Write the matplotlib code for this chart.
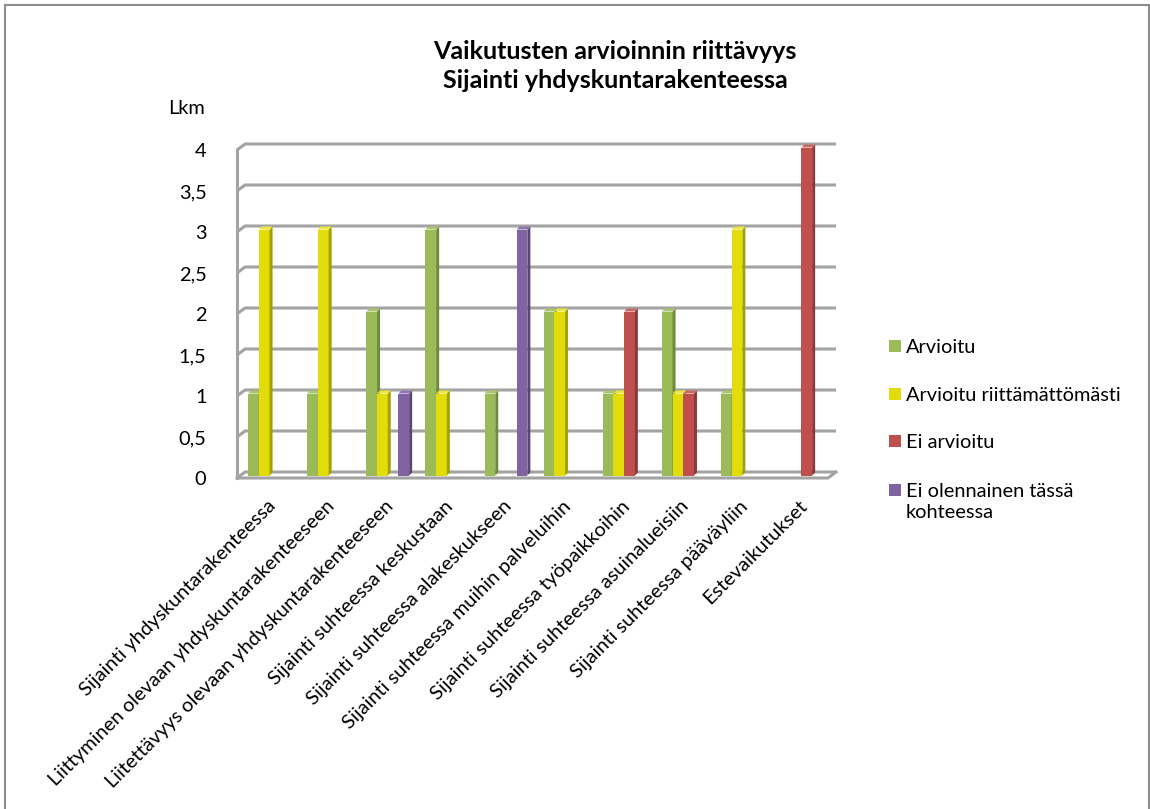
import matplotlib.pyplot as plt
from matplotlib.patches import Rectangle, Polygon

plt.rcParams['font.family'] = ['Lato', 'DejaVu Sans']

categories = [
    'Sijainti yhdyskuntarakenteessa',
    'Liittyminen olevaan yhdyskuntarakenteeseen',
    'Liitettävyys olevaan yhdyskuntarakenteeseen',
    'Sijainti suhteessa keskustaan',
    'Sijainti suhteessa alakeskukseen',
    'Sijainti suhteessa muihin palveluihin',
    'Sijainti suhteessa työpaikkoihin',
    'Sijainti suhteessa asuinalueisiin',
    'Sijainti suhteessa pääväyliin',
    'Estevaikutukset',
]
series_names = ['Arvioitu', 'Arvioitu riittämättömästi', 'Ei arvioitu',
                'Ei olennainen tässä\nkohteessa']
arvioitu = [1, 1, 2, 3, 1, 2, 1, 2, 1, 0]
riittamaton = [3, 3, 1, 1, 0, 2, 1, 1, 3, 0]
ei_arvioitu = [0, 0, 0, 0, 0, 0, 2, 1, 0, 4]
ei_olennainen = [0, 0, 1, 0, 3, 0, 0, 0, 0, 0]
yticks = [0, 0.5, 1, 1.5, 2, 2.5, 3, 3.5, 4]
ytick_labels = ['0', '0,5', '1', '1,5', '2', '2,5', '3', '3,5', '4']

values = [arvioitu, riittamaton, ei_arvioitu, ei_olennainen]
front = ['#9bbb59', '#e2dc0b', '#c0504d', '#8064a2']
side = ['#6f8a3c', '#a5a000', '#8c3835', '#5a4577']
top = ['#a9c66c', '#ece63a', '#cc6663', '#8f76b0']

FS = 14.4

W, H = 1150, 809
fig = plt.figure(figsize=(W / 100, H / 100), dpi=100)
ax = fig.add_axes([237 / W, 1 - 478 / H, 591 / W, 328 / H])
ax.set_xlim(0, 10)
ax.set_ylim(0, 4)
for s in ax.spines.values():
    s.set_visible(False)

# pixel -> data conversion for the 3D depth
px_x = 591 / 10
px_y = 328 / 4
DX, DY = 8 / px_x, 6 / px_y

grid_c = '#a3a3a3'
for v in yticks:
    ax.plot([0, DX, 10 + DX], [v, v + DY, v + DY], color=grid_c, lw=2.2,
            clip_on=False, zorder=1, solid_capstyle='butt')
# left wall and floor
ax.plot([0, 0], [0, 4], color=grid_c, lw=2.2, clip_on=False, zorder=1)
ax.plot([0, 10, 10 + DX], [0, 0, DY], color=grid_c, lw=2.2, clip_on=False,
        zorder=1)

# 3D columns
bw = 10.7 / px_x
sx, sy = 3 / px_x, 3 / px_y
bx, by = 3 / px_x, 2.5 / px_y
for k, vals in enumerate(values):
    for i, v in enumerate(vals):
        if v == 0:
            continue
        x0 = i + 0.5 - 2 * bw + k * bw + bx
        ax.bar(x0, v, width=bw, bottom=by, align='edge', color=front[k],
               lw=0, zorder=3, clip_on=False)
        y1 = by + v
        ax.add_patch(Polygon([(x0 + bw, by), (x0 + bw, y1),
                              (x0 + bw + sx, y1 + sy), (x0 + bw + sx, by + sy)],
                             closed=True, fc=side[k], lw=0, zorder=3,
                             clip_on=False))
        ax.add_patch(Polygon([(x0, y1), (x0 + bw, y1),
                              (x0 + bw + sx, y1 + sy), (x0 + sx, y1 + sy)],
                             closed=True, fc=top[k], lw=0, zorder=3,
                             clip_on=False))

ax.set_yticks(yticks)
ax.set_yticklabels(ytick_labels, fontsize=FS)
ax.set_xticks([i + 0.5 for i in range(10)])
ax.set_xticklabels(categories, rotation=45, ha='right', va='top',
                   rotation_mode='anchor', fontsize=FS)
ax.tick_params(axis='y', length=0, pad=22)
ax.tick_params(axis='x', length=0, pad=14)

fig.text(186 / W, 1 - 108 / H, 'Lkm', fontsize=FS, ha='center', va='center')
fig.text(615 / W, 1 - 66 / H,
         'Vaikutusten arvioinnin riittävyys\nSijainti yhdyskuntarakenteessa',
         fontsize=18, fontweight='bold', ha='center', va='center',
         linespacing=1.3)

# legend
leg_y = [346, 394, 441, 490]
for k, name in enumerate(series_names):
    y = leg_y[k]
    fig.patches.append(Rectangle((889 / W, 1 - (y + 6) / H), 12 / W, 12 / H,
                                 transform=fig.transFigure, fc=front[k], lw=0))
    fig.text(906 / W, 1 - (y - 7) / H, name, fontsize=FS, ha='left',
             va='top', linespacing=1.25)

# chart border
fig.patches.append(Rectangle((5 / W, -5 / H), 1144 / W, 809 / H,
                             transform=fig.transFigure, fill=False,
                             ec='#8c8c8c', lw=1.5))

fig.savefig('out.png', dpi=100)
